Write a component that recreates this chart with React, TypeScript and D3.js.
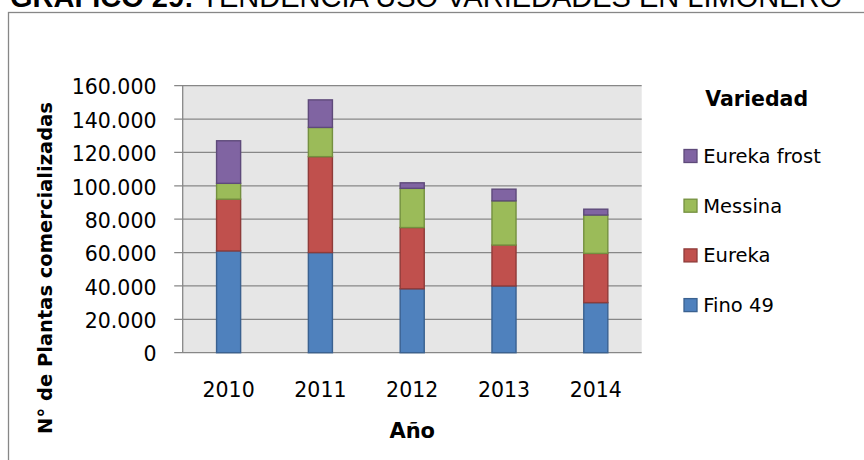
import React from "react";
import * as d3 from "d3";

const years = ["2010", "2011", "2012", "2013", "2014"];
const fino49 = [61000, 60000, 38300, 40000, 30000];
const eureka = [31000, 57500, 36700, 24500, 29500];
const messina = [9500, 17500, 23500, 26500, 23000];
const eurekaFrost = [25500, 16500, 3300, 7000, 3500];
const seriesNames = ["Fino 49", "Eureka", "Messina", "Eureka frost"];
const yTicks = [0, 20000, 40000, 60000, 80000, 100000, 120000, 140000, 160000];

const fills = ["#4f81bd", "#c0504d", "#9bbb59", "#8064a2"];
const strokes = ["#3a6190", "#8f3b39", "#74903f", "#5e4a7a"];

const W = 864;
const H = 460;
const plot = { left: 182.7, right: 641.7, top: 85.7, bottom: 352.7 };

export default function App() {
  const x = d3.scaleBand<string>().domain(years).range([plot.left, plot.right]).padding(0);
  const y = d3.scaleLinear().domain([0, 160000]).range([plot.bottom, plot.top]);
  const barW = x.step() * 0.262;

  const rows = years.map((yr, i) => ({
    year: yr,
    "Fino 49": fino49[i],
    Eureka: eureka[i],
    Messina: messina[i],
    "Eureka frost": eurekaFrost[i],
  }));
  const stacked = d3.stack<any>().keys(seriesNames)(rows);

  const fmt = (v: number) => (v === 0 ? "0" : d3.format(",")(v).replace(/,/g, "."));
  const legendOrder = [3, 2, 1, 0];
  const font = "'DejaVu Sans', sans-serif";

  return (
    <svg
      width={W}
      height={H}
      style={{ position: "absolute", left: 0, top: 0, display: "block", background: "#fff" }}
    >
      <rect x={0} y={0} width={W} height={H} fill="#fff" />
      <text x={10} y={6.5} fontFamily="'Liberation Sans', Arial, sans-serif" fontSize={29} fill="#000">
        <tspan fontWeight="bold">GRÁFICO 29:</tspan>
        <tspan> TENDENCIA USO VARIEDADES EN LIMONERO</tspan>
      </text>
      <rect x={8.5} y={12.5} width={W} height={H} fill="none" stroke="#878787" strokeWidth={1.3} />

      <rect
        x={plot.left}
        y={plot.top}
        width={plot.right - plot.left}
        height={plot.bottom - plot.top}
        fill="#e6e6e6"
      />
      {yTicks.map((t) => (
        <g key={t}>
          <line
            x1={plot.left - 8.5}
            x2={plot.right}
            y1={y(t)}
            y2={y(t)}
            stroke="#878787"
            strokeWidth={1.2}
          />
          <text
            x={156.5}
            y={y(t) + 1.5}
            dy="0.35em"
            textAnchor="end"
            fontFamily={font}
            fontSize={20.5}
            fill="#000"
          >
            {fmt(t)}
          </text>
        </g>
      ))}
      <line x1={plot.left} x2={plot.left} y1={plot.top} y2={plot.bottom} stroke="#878787" strokeWidth={1.3} />

      {stacked.map((s, si) => (
        <g key={s.key}>
          {s.map((d, i) => (
            <rect
              key={i}
              x={(x(years[i]) as number) + x.step() / 2 - barW / 2}
              y={y(d[1])}
              width={barW}
              height={y(d[0]) - y(d[1])}
              fill={fills[si]}
              stroke={strokes[si]}
              strokeWidth={1.4}
            />
          ))}
        </g>
      ))}

      {years.map((yr) => (
        <text
          key={yr}
          x={(x(yr) as number) + x.step() / 2}
          y={397}
          textAnchor="middle"
          fontFamily={font}
          fontSize={20.5}
          fill="#000"
        >
          {yr}
        </text>
      ))}
      <text
        x={(plot.left + plot.right) / 2}
        y={438}
        textAnchor="middle"
        fontFamily={font}
        fontWeight="bold"
        fontSize={21}
        fill="#000"
      >
        Año
      </text>
      <text
        transform={`translate(52,268) rotate(-90)`}
        textAnchor="middle"
        fontFamily={font}
        fontWeight="bold"
        fontSize={19.5}
        fill="#000"
      >
        N° de Plantas comercializadas
      </text>

      <text x={756.7} y={106} textAnchor="middle" fontFamily={font} fontWeight="bold" fontSize={20.5} fill="#000">
        Variedad
      </text>
      {legendOrder.map((si, k) => {
        const cy = 156 + k * 49.7;
        return (
          <g key={si}>
            <rect x={684} y={cy - 6.5} width={13} height={13} fill={fills[si]} stroke={strokes[si]} strokeWidth={1.3} />
            <text x={703.3} y={cy} dy="0.36em" fontFamily={font} fontSize={19.5} fill="#000">
              {seriesNames[si]}
            </text>
          </g>
        );
      })}
    </svg>
  );
}
